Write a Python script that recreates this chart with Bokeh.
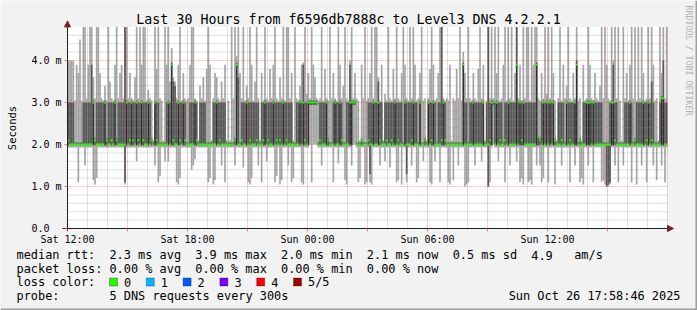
import numpy as np
from bokeh.plotting import figure
from bokeh.models import FixedTicker, Label, BoxAnnotation, Arrow, NormalHead, ColumnDataSource
from bokeh.embed import file_html
from bokeh.resources import INLINE

# ---------------- data (ms, one value per 5-minute step, 30 hours) ----------------
step_minutes = 5

med = [
    2.1,2.0,2.0,2.0,2.0,2.0,2.0,2.0,2.0,2.0,2.0,2.0,
    2.0,2.0,2.0,3.0,2.1,2.0,2.0,2.0,2.0,2.0,3.0,2.1,
    2.0,2.0,2.1,2.0,3.0,2.1,2.0,2.0,2.0,2.0,2.0,3.0,
    2.0,2.1,3.0,2.1,2.0,3.0,2.1,2.0,3.0,2.1,2.0,2.0,
    3.0,2.0,2.1,2.0,3.0,2.1,2.0,2.0,2.0,2.0,2.0,2.0,
    3.0,2.0,3.9,2.1,2.0,2.0,3.0,2.1,2.0,3.0,2.1,2.0,
    2.0,2.0,2.0,2.0,3.0,2.1,2.0,2.0,2.0,2.0,2.0,2.0,
    2.0,2.0,2.0,2.0,2.0,3.0,2.0,2.1,2.0,2.0,2.0,2.0,
    2.0,2.0,2.0,2.0,2.1,3.9,2.0,2.0,2.1,2.0,2.0,3.0,
    2.0,2.1,2.0,2.0,2.0,2.1,2.0,2.0,2.0,2.1,3.0,2.0,
    2.1,2.0,2.0,3.0,2.0,2.1,2.0,2.1,2.0,3.0,2.0,2.1,
    2.0,2.0,2.0,2.0,2.0,2.0,2.0,3.0,2.0,3.0,2.1,2.0,
    3.0,3.0,3.0,3.0,3.0,3.0,2.0,2.1,2.0,2.0,2.0,3.0,
    2.1,2.0,2.0,2.0,3.0,2.0,2.0,3.0,2.1,2.0,2.0,2.0,
    2.0,3.0,3.0,3.0,3.0,2.0,2.0,2.0,2.1,2.0,2.0,2.0,
    2.1,2.0,2.0,3.0,2.0,2.0,3.0,2.1,2.0,2.0,2.0,2.1,
    2.0,2.0,2.1,2.0,3.0,2.0,2.1,2.0,2.0,2.0,3.0,2.0,
    2.0,2.0,2.1,3.0,2.0,2.0,2.0,3.0,2.0,2.0,2.1,2.0,
    3.0,2.0,2.1,3.0,2.0,2.0,2.0,2.0,2.1,3.0,2.1,2.0,
    2.0,2.0,2.0,2.0,2.0,2.0,2.0,2.0,2.0,3.9,2.0,2.0,
    2.0,2.0,2.0,3.0,2.0,2.0,2.0,2.0,2.0,3.0,2.0,2.0,
    2.0,2.1,3.0,3.0,2.0,3.0,2.0,2.1,2.0,2.0,2.1,2.0,
    3.0,2.0,2.0,2.0,2.0,3.9,2.0,3.0,2.1,3.0,2.0,2.0,
    2.0,2.0,2.0,2.0,2.0,3.9,2.17,2.1,2.0,3.0,2.0,3.0,
    2.0,3.0,2.0,3.0,2.1,2.0,2.0,2.0,2.1,2.0,2.0,3.0,
    2.0,2.1,2.0,2.0,3.0,3.9,2.0,2.1,2.0,2.0,2.0,3.0,
    3.0,3.0,2.0,3.0,2.0,2.0,2.0,2.0,2.0,2.0,2.0,2.0,
    2.0,2.0,3.0,3.0,2.1,2.0,2.0,2.0,2.0,2.0,2.0,2.0,
    2.0,3.0,2.0,2.0,2.1,2.0,2.0,2.0,2.0,3.0,2.0,2.1,
    3.0,2.0,2.1,2.0,2.0,2.0,2.0,2.0,3.1,3.1,2.0,2.0,
]

ping4 = [
    3.0,3.0,3.0,3.0,2.05,2.05,2.05,2.05,2.05,3.0,3.0,3.0,
    3.0,3.0,3.9,3.05,2.15,3.0,3.0,3.0,3.0,3.0,3.05,2.15,
    3.0,3.0,3.0,3.0,3.05,2.15,3.0,3.0,3.0,3.0,4.8,3.05,
    3.0,3.0,3.05,3.0,3.0,3.05,3.0,3.0,3.05,3.0,3.0,3.0,
    3.05,3.0,2.15,2.05,3.05,3.0,3.0,2.05,2.05,2.05,2.05,3.0,
    3.05,3.0,3.95,3.5,3.4,3.0,3.05,3.0,3.0,3.05,3.0,2.05,
    2.05,3.0,3.0,3.0,3.05,3.0,2.05,3.0,3.0,3.0,3.0,2.05,
    2.05,2.05,2.05,3.0,3.0,3.05,3.0,3.0,3.0,3.0,3.0,2.05,
    2.05,2.05,2.05,2.05,2.15,3.95,3.6,2.05,3.0,3.0,3.0,3.05,
    3.0,3.0,3.0,3.0,3.0,3.0,3.0,2.05,3.0,3.0,3.05,3.0,
    3.0,3.0,3.0,3.05,3.0,3.0,3.0,3.0,3.0,3.05,3.0,3.0,
    3.0,3.0,3.0,2.05,2.05,3.0,3.0,3.05,3.0,3.9,3.0,3.0,
    3.05,3.05,3.05,3.05,3.05,3.05,2.05,3.0,3.0,3.0,3.0,3.05,
    2.15,2.05,2.05,3.0,3.05,3.0,3.0,3.05,3.0,2.05,2.05,3.0,
    3.0,3.9,3.05,3.05,3.05,2.05,2.05,2.05,2.15,2.05,2.05,2.05,
    3.0,3.0,3.0,3.05,3.0,3.0,3.5,3.0,3.0,2.05,3.0,3.0,
    3.0,3.0,3.0,3.0,3.05,3.0,3.0,3.0,3.0,2.05,3.05,3.0,
    3.0,3.0,3.0,3.05,3.0,3.0,2.05,3.05,2.05,2.05,2.15,2.05,
    3.05,3.0,3.0,3.05,3.0,2.05,3.0,3.0,4.8,3.05,3.0,2.05,
    2.05,2.05,2.05,2.05,2.05,2.05,2.05,2.05,2.05,3.95,3.0,3.0,
    2.05,3.0,3.0,3.05,3.0,3.0,3.0,3.0,3.0,3.05,2.05,3.0,
    4.8,3.0,3.05,3.05,3.0,3.05,3.0,3.0,3.0,2.05,3.0,3.0,
    3.05,3.0,3.0,3.0,3.0,4.8,3.0,3.05,3.0,3.05,3.0,3.0,
    3.0,3.0,3.0,3.0,3.0,3.95,2.2,2.15,3.0,3.05,3.0,3.05,
    3.0,3.05,3.0,3.05,2.15,2.05,3.0,3.0,3.0,3.0,2.05,3.05,
    3.0,3.0,3.0,3.0,3.05,4.0,2.05,2.15,2.05,3.0,3.0,3.05,
    3.05,3.05,3.0,3.05,3.0,3.0,3.0,3.0,3.0,2.05,2.05,2.05,
    2.05,3.0,3.05,3.9,3.0,3.0,2.05,2.05,2.05,2.05,3.0,3.0,
    3.0,3.05,3.0,2.05,2.15,3.0,3.0,3.0,3.0,3.05,3.0,3.0,
    3.05,3.0,3.5,3.0,2.05,2.05,2.05,3.0,3.15,4.0,3.0,3.0,
]

ping5 = [
    4.0,4.0,4.0,4.0,3.05,3.9,3.7,4.5,3.05,4.8,4.8,3.1,
    3.9,4.8,4.8,3.6,3.1,4.8,4.8,3.7,3.1,3.05,3.4,3.05,
    4.8,3.5,3.1,3.05,3.9,4.8,3.1,3.7,3.9,3.1,4.8,4.8,
    3.1,3.7,3.1,3.05,3.6,4.8,3.1,4.8,3.9,4.8,4.8,3.05,
    3.3,3.1,3.05,2.1,4.8,3.8,4.8,3.1,3.05,2.1,4.8,3.9,
    4.8,3.5,4.3,3.6,3.5,3.1,3.9,4.8,3.05,3.7,3.1,3.05,
    3.1,3.9,4.8,4.8,3.1,3.05,2.1,3.4,3.1,3.6,3.05,3.8,
    4.8,3.9,2.1,3.1,3.7,3.6,3.1,3.05,3.5,3.1,3.9,2.1,
    3.05,2.1,4.8,3.1,4.8,4.1,4.8,3.7,3.1,4.8,3.05,3.4,
    3.1,4.8,3.9,3.05,3.5,4.8,3.1,2.1,3.7,3.05,4.8,3.1,
    3.05,3.8,3.1,3.9,4.8,3.1,3.05,3.6,3.1,4.8,3.05,4.8,
    4.8,3.1,3.7,2.1,4.8,3.1,3.05,3.4,3.9,3.95,4.8,3.2,
    3.7,3.1,4.8,3.9,3.6,3.1,3.05,3.1,4.8,3.05,3.8,3.1,
    3.05,4.8,3.1,3.7,3.1,3.05,4.8,3.9,3.1,3.4,4.8,3.1,
    3.05,4.0,4.8,3.1,3.7,3.1,3.05,2.1,3.9,3.1,4.8,3.05,
    3.1,3.7,4.8,3.1,4.8,4.8,3.6,3.05,3.9,2.1,3.2,3.05,
    4.8,3.1,3.05,3.8,3.1,4.8,3.1,3.05,3.7,4.8,3.9,3.1,
    3.05,4.8,3.1,4.8,3.9,3.05,3.1,3.7,4.8,3.05,3.1,2.1,
    3.1,3.8,4.8,3.9,3.05,3.1,3.7,4.8,4.8,3.1,3.05,3.1,
    3.05,3.9,2.1,3.1,3.05,3.8,3.1,4.8,3.05,4.2,3.7,3.1,
    4.8,3.1,3.05,3.7,3.1,3.05,3.8,4.8,3.1,3.9,2.1,3.05,
    4.8,3.1,4.8,3.1,4.8,3.7,4.8,3.05,3.1,3.9,4.8,3.05,
    4.8,3.1,4.8,3.05,3.7,4.8,3.1,3.9,3.05,4.8,3.1,4.8,
    4.8,3.05,4.8,3.9,4.8,4.8,3.1,3.05,3.7,3.1,4.8,3.2,
    4.8,3.1,4.8,3.7,3.05,2.1,3.1,4.8,3.05,3.9,3.1,3.4,
    4.8,3.1,3.05,3.7,3.1,4.8,3.05,3.1,2.1,3.9,3.05,3.1,
    4.8,3.9,3.1,3.05,3.7,3.1,3.05,3.4,4.8,3.1,4.8,3.9,
    3.1,3.05,4.8,4.0,4.8,3.1,4.8,3.05,2.1,4.8,3.1,3.7,
    3.05,3.9,4.8,3.1,4.8,3.05,4.8,3.1,4.8,3.7,3.05,3.1,
    4.8,3.1,4.8,3.9,3.05,3.1,2.1,4.8,3.7,4.8,3.1,4.8,
]

ping2 = [
    1.98,1.98,1.98,1.98,1.98,1.98,1.98,1.98,1.98,1.98,1.98,1.98,
    1.98,1.98,1.98,1.98,1.98,1.98,1.98,1.98,1.98,1.98,1.98,1.98,
    1.98,1.98,1.98,1.98,1.98,1.98,1.98,1.98,1.98,1.98,1.1,1.98,
    1.98,1.98,1.98,1.98,1.98,1.98,1.98,1.98,1.98,1.98,1.98,1.98,
    1.98,1.98,1.98,1.98,1.98,1.98,1.98,1.98,1.98,1.98,1.98,1.98,
    1.98,1.98,1.98,1.98,1.98,1.98,1.98,1.98,1.98,1.98,1.98,1.98,
    1.98,1.98,1.98,1.98,1.98,1.98,1.98,1.98,1.98,1.98,1.98,1.98,
    1.98,1.98,1.98,1.98,1.98,1.98,1.98,1.98,1.98,1.98,1.98,1.98,
    1.98,1.98,1.98,1.98,1.98,1.98,1.98,1.98,1.98,1.98,1.98,1.98,
    1.98,1.98,1.98,1.98,1.98,1.98,1.98,1.98,1.98,1.98,1.98,1.98,
    1.98,1.98,1.98,1.98,1.98,1.98,1.98,1.98,1.98,1.98,1.98,1.98,
    1.98,1.98,1.98,1.98,1.98,1.98,1.98,1.98,1.98,1.98,1.98,1.98,
    1.98,2.95,2.95,2.95,2.95,2.95,1.98,1.98,1.98,1.98,1.98,1.98,
    1.98,1.98,1.98,1.98,1.98,1.98,1.98,1.98,1.98,1.98,1.98,1.98,
    1.98,1.98,1.98,2.95,2.95,1.98,1.98,1.98,1.98,1.98,1.98,1.98,
    1.98,1.3,1.98,1.98,1.98,1.98,1.98,1.98,1.98,1.98,1.98,1.98,
    1.98,1.98,1.98,1.98,1.98,1.98,1.98,1.98,1.98,1.98,1.98,1.3,
    1.98,1.98,1.98,1.98,1.98,1.98,1.98,1.98,1.98,1.98,1.98,1.98,
    1.98,1.98,1.98,1.98,1.98,1.98,1.98,1.98,1.98,1.98,1.98,1.98,
    1.98,1.98,1.98,1.98,1.98,1.98,1.98,1.98,1.98,1.98,1.98,1.98,
    1.98,1.98,1.98,1.98,1.98,1.98,1.98,1.98,1.98,1.98,1.98,1.98,
    1.0,1.98,1.98,2.95,1.98,1.98,1.98,1.98,1.98,1.98,1.98,1.98,
    1.98,1.98,1.98,1.98,1.98,1.98,1.98,1.98,1.98,1.98,1.98,1.98,
    1.98,1.98,1.98,1.98,1.98,1.98,1.98,1.98,1.98,1.98,1.98,1.98,
    1.98,1.98,1.98,1.98,1.98,1.98,1.98,1.98,1.98,1.98,1.98,1.98,
    1.98,1.98,1.98,1.98,1.98,1.98,1.98,1.98,1.98,1.98,1.98,1.98,
    1.98,1.98,1.98,1.98,1.98,1.98,1.98,1.98,1.98,1.98,1.98,1.0,
    1.05,1.1,1.98,1.98,1.98,1.98,1.98,1.98,1.98,1.98,1.98,1.98,
    1.98,1.98,1.98,1.98,1.98,1.98,1.98,1.98,1.98,1.98,1.98,1.98,
    1.98,1.98,1.98,1.98,1.98,1.98,1.98,1.98,1.98,1.98,1.98,1.98,
]

ping1 = [
    1.93,1.93,1.93,1.93,1.93,1.93,1.1,1.93,1.93,1.93,1.5,1.93,
    1.93,1.93,1.93,1.15,1.05,1.2,1.93,1.93,1.93,1.93,1.93,1.93,
    1.93,1.93,1.93,1.93,1.93,1.93,1.93,1.93,1.93,1.93,1.05,1.93,
    1.93,1.93,1.93,1.93,1.93,1.6,1.93,1.93,1.93,1.93,1.93,1.93,
    1.93,1.93,1.93,1.93,1.5,1.93,1.1,1.25,1.93,1.93,1.6,1.93,
    1.6,1.93,1.93,1.93,1.93,1.1,1.05,1.2,1.93,1.93,1.93,1.93,
    1.93,1.93,1.4,1.5,1.65,1.93,1.93,1.93,1.93,1.93,1.93,1.93,
    1.1,1.2,1.93,1.05,1.15,1.93,1.93,1.93,1.5,1.93,1.1,1.93,
    1.93,1.93,1.93,1.93,1.5,1.93,1.93,1.93,1.93,1.45,1.93,1.93,
    1.1,1.05,1.2,1.93,1.93,1.93,1.5,1.93,1.1,1.93,1.93,1.6,
    1.93,1.93,1.93,1.93,1.1,1.25,1.93,1.05,1.15,1.93,1.93,1.93,
    1.5,1.93,1.1,1.2,1.93,1.93,1.93,1.93,1.1,1.05,1.93,1.93,
    1.93,2.0,1.1,2.0,2.0,2.0,1.93,1.93,1.5,1.93,1.93,1.93,
    1.93,1.93,1.93,1.1,1.93,1.93,1.55,1.93,1.93,1.93,1.15,1.05,
    1.93,1.93,1.5,2.0,2.0,1.93,1.1,1.2,1.93,1.93,1.05,1.1,
    1.93,1.1,1.05,1.93,1.93,1.93,1.93,1.5,1.93,1.93,1.6,1.93,
    1.93,1.45,1.93,1.93,1.93,1.1,1.15,1.93,1.05,1.93,1.93,1.1,
    1.93,1.93,1.5,1.93,1.93,1.1,1.2,1.93,1.93,1.6,1.93,1.93,
    1.93,1.1,1.05,1.93,1.6,1.93,1.93,1.1,1.93,1.93,1.93,1.93,
    1.1,1.05,1.93,1.15,1.93,1.93,1.5,1.93,1.93,1.93,1.0,1.05,
    1.1,1.93,1.93,1.93,1.5,1.93,1.93,1.93,1.6,1.93,1.93,1.93,
    1.0,1.1,1.93,2.0,1.93,1.93,1.6,1.93,1.93,1.93,1.1,1.93,
    1.93,1.5,1.93,1.93,1.93,1.6,1.93,1.1,1.2,1.05,1.93,1.93,
    1.1,1.15,1.05,1.93,1.93,1.5,1.93,1.5,1.1,1.2,1.93,1.93,
    1.1,1.93,1.93,1.93,1.05,1.93,1.93,1.93,1.5,1.93,1.93,1.93,
    1.93,1.1,1.93,1.93,1.5,1.93,1.93,1.1,1.2,1.05,1.93,1.93,
    1.5,1.93,1.93,1.1,1.93,1.93,1.93,1.93,1.1,1.15,1.05,1.0,
    1.0,1.05,1.93,1.93,1.5,1.93,1.1,1.93,1.93,1.5,1.93,1.93,
    1.93,1.93,1.1,1.93,1.93,1.05,1.93,1.93,1.5,1.93,1.93,1.1,
    1.93,1.93,1.93,1.5,1.93,1.15,1.93,1.93,1.5,1.93,1.1,1.93,
]

x_tick_hours = [0, 6, 12, 18, 24]
x_tick_labels = ["Sat 12:00", "Sat 18:00", "Sun 00:00", "Sun 06:00", "Sun 12:00"]
y_tick_values = [0, 1, 2, 3, 4]
y_tick_labels = ["0.0\u00a0\u00a0", "1.0 m", "2.0 m", "3.0 m", "4.0 m"]

title_text = "Last 30 Hours from f6596db7888c to Level3 DNS 4.2.2.1"
rtt_fields = [(0, "median rtt:"), (13, "2.3 ms avg"), (25, "3.9 ms max"), (37, "2.0 ms min"),
              (49, "2.1 ms now"), (61, "0.5 ms sd"), (72, "4.9"), (78, "am/s")]
loss_fields = [(0, "packet loss:"), (13, "0.00 % avg"), (25, "0.00 % max"), (37, "0.00 % min"),
               (49, "0.00 % now")]
probe_fields = [(0, "probe:"), (13, "5 DNS requests every 300s")]
date_text = "Sun Oct 26 17:58:46 2025"
loss_names = ["0", "1", "2", "3", "4", "5/5"]
loss_colors = ["#26ff00", "#00b8ff", "#0059ff", "#7e00ff", "#ff0000", "#a00000"]

# ---------------- layout constants ----------------
W, H = 697, 310
OX, OY = 67, 228     # canvas position of the graph origin
PXH = 20.0           # px per hour
PXMS = 42.0          # px per ms
YMAX = 4.8
HOURS = 30
FONT = "DejaVu Sans Mono"
BG = "#f2f2f2"

n = len(med)
t = (np.arange(n) + 0.5) * step_minutes / 60.0
w = step_minutes / 60.0
med_a = np.array(med)
p2_a = np.array(ping2)
blk = np.where(med_a >= 2.9, med_a, p2_a)
sw = 1.0 / PXMS

src = ColumnDataSource(dict(t=t, p1=ping1, p2=ping2, med=med, p4=ping4, p5=ping5,
                            blk=blk, mlo=med_a - sw, mhi=med_a + sw))

# the frame covers the whole canvas; axes are pinned at the origin
p = figure(width=W, height=H,
           x_range=(-OX / PXH, (W - OX) / PXH),
           y_range=(-(H - OY) / PXMS, OY / PXMS),
           output_backend="svg", toolbar_location=None, title=None,
           min_border_left=0, min_border_right=0, min_border_top=0, min_border_bottom=0)
p.background_fill_color = BG
p.border_fill_color = BG
p.outline_line_color = None
p.xgrid.visible = False
p.ygrid.visible = False

# white graph canvas
p.add_layout(BoxAnnotation(left=0, right=HOURS, bottom=0, top=YMAX, fill_color="white",
                           fill_alpha=1.0, line_color=None, level="underlay"))

# smoke
p.vbar(x="t", width=w, bottom="p1", top="p5", source=src, fill_color="#a4a4a4", line_color=None)
p.vbar(x="t", width=w, bottom="p2", top="p4", source=src, fill_color="#585858", line_color=None)
p.vbar(x="t", width=w * 0.6, bottom="p2", top="blk", source=src, fill_color="#262626", line_color=None)

# grid (drawn over smoke, like rrdtool)
minor_y = [k * 0.2 for k in range(1, 24) if k % 5 != 0]
major_y = [1, 2, 3, 4]
minor_x = [h for h in range(1, HOURS) if h % 3 != 0]
major_x = [h for h in range(3, HOURS + 1, 3)]
p.segment(x0=[0] * len(minor_y), x1=[HOURS] * len(minor_y), y0=minor_y, y1=minor_y,
          line_color="#8f8f8f", line_alpha=0.55, line_dash="1 1", line_width=1)
p.segment(x0=minor_x, x1=minor_x, y0=[0] * len(minor_x), y1=[YMAX] * len(minor_x),
          line_color="#8f8f8f", line_alpha=0.55, line_dash="1 1", line_width=1)
p.segment(x0=[0] * len(major_y), x1=[HOURS] * len(major_y), y0=major_y, y1=major_y,
          line_color="#de5050", line_alpha=0.55, line_dash="1 1", line_width=1)
p.segment(x0=major_x, x1=major_x, y0=[0] * len(major_x), y1=[YMAX] * len(major_x),
          line_color="#de5050", line_alpha=0.55, line_dash="1 1", line_width=1)

# median (loss colour 0)
p.vbar(x="t", width=w, bottom="mlo", top="mhi", source=src, fill_color=loss_colors[0], line_color=None)

# axes
xa = p.xaxis[0]
xa.fixed_location = 0
xa.ticker = FixedTicker(ticks=list(range(0, HOURS + 1, 3)), minor_ticks=[])
ov = {h: "" for h in range(0, HOURS + 1, 3)}
ov.update(dict(zip(x_tick_hours, x_tick_labels)))
xa.major_label_overrides = ov
xa.bounds = (-5 / PXH, HOURS)
xa.axis_line_color = "#1f1f1f"
xa.major_tick_in = 0
xa.major_tick_out = 3
xa.major_tick_line_color = "#de5050"
xa.major_tick_line_alpha = 0.7
xa.minor_tick_out = 0
xa.major_label_standoff = 2
xa.major_label_text_font = FONT
xa.major_label_text_font_size = "10px"
xa.major_label_text_color = "black"

ya = p.yaxis[0]
ya.fixed_location = 0
ya.ticker = FixedTicker(ticks=y_tick_values, minor_ticks=[])
ya.major_label_overrides = dict(zip(y_tick_values, y_tick_labels))
ya.bounds = (-2 / PXMS, YMAX)
ya.axis_line_color = "#1f1f1f"
ya.major_tick_in = 0
ya.major_tick_out = 3
ya.major_tick_line_color = "#de5050"
ya.major_tick_line_alpha = 0.7
ya.minor_tick_out = 0
ya.major_label_standoff = 3
ya.major_label_text_font = FONT
ya.major_label_text_font_size = "10px"
ya.major_label_text_color = "black"

# axis arrows
arrow_col = "#801f1f"
p.add_layout(Arrow(end=NormalHead(size=6, fill_color=arrow_col, line_color=arrow_col),
                   x_start=HOURS, y_start=0, x_end=HOURS + 6 / PXH, y_end=0,
                   line_color=arrow_col, line_width=1))
p.add_layout(Arrow(end=NormalHead(size=6, fill_color=arrow_col, line_color=arrow_col),
                   x_start=0, y_start=YMAX, x_end=0, y_end=YMAX + 6 / PXMS,
                   line_color=arrow_col, line_width=1))


def put(cx, cy, text, size="11.9px", align="left", color="black", angle=0.0):
    p.add_layout(Label(x=cx, y=H - cy, x_units="screen", y_units="screen", text=text,
                       text_font=FONT, text_font_size=size, text_color=color,
                       text_align=align, text_baseline="middle", angle=angle))


def box(cx0, cy0, cx1, cy1, fill, line=None):
    p.add_layout(BoxAnnotation(left=cx0, right=cx1, top=H - cy0, bottom=H - cy1,
                               left_units="screen", right_units="screen",
                               top_units="screen", bottom_units="screen",
                               fill_color=fill, fill_alpha=1.0,
                               line_color=line, line_width=1))


put(348, 19, title_text, "13.3px", align="center")
put(11, 127.5, "Seconds", "10.5px", align="center", angle=np.pi / 2)
put(688, 60, "RRDTOOL / TOBI OETIKER", "8.3px", align="center", color="#b0b0b0",
    angle=-np.pi / 2)

# legend
pitch = 7.15
x0 = 16
rows_y = [254.5, 268, 281.5, 295]
for col, txt in rtt_fields:
    put(x0 + col * pitch, rows_y[0], txt)
for col, txt in loss_fields:
    put(x0 + col * pitch, rows_y[1], txt)
put(x0, rows_y[2], "loss color:")
for i, (nm, c) in enumerate(zip(loss_names, loss_colors)):
    bx = 109 + i * 36.8
    box(bx, rows_y[2] - 4, bx + 8, rows_y[2] + 4, c, "black")
    put(bx + 14.5, rows_y[2], nm)
for col, txt in probe_fields:
    put(x0 + col * pitch, rows_y[3], txt)
put(680, rows_y[3], date_text, align="right")

# shaded edges of the canvas (bottom / right)
box(0, H - 2, W, H, "#9e9e9e")
box(W - 2, 0, W, H, "#9e9e9e")

open("out.html", "w").write(file_html(p, INLINE))
